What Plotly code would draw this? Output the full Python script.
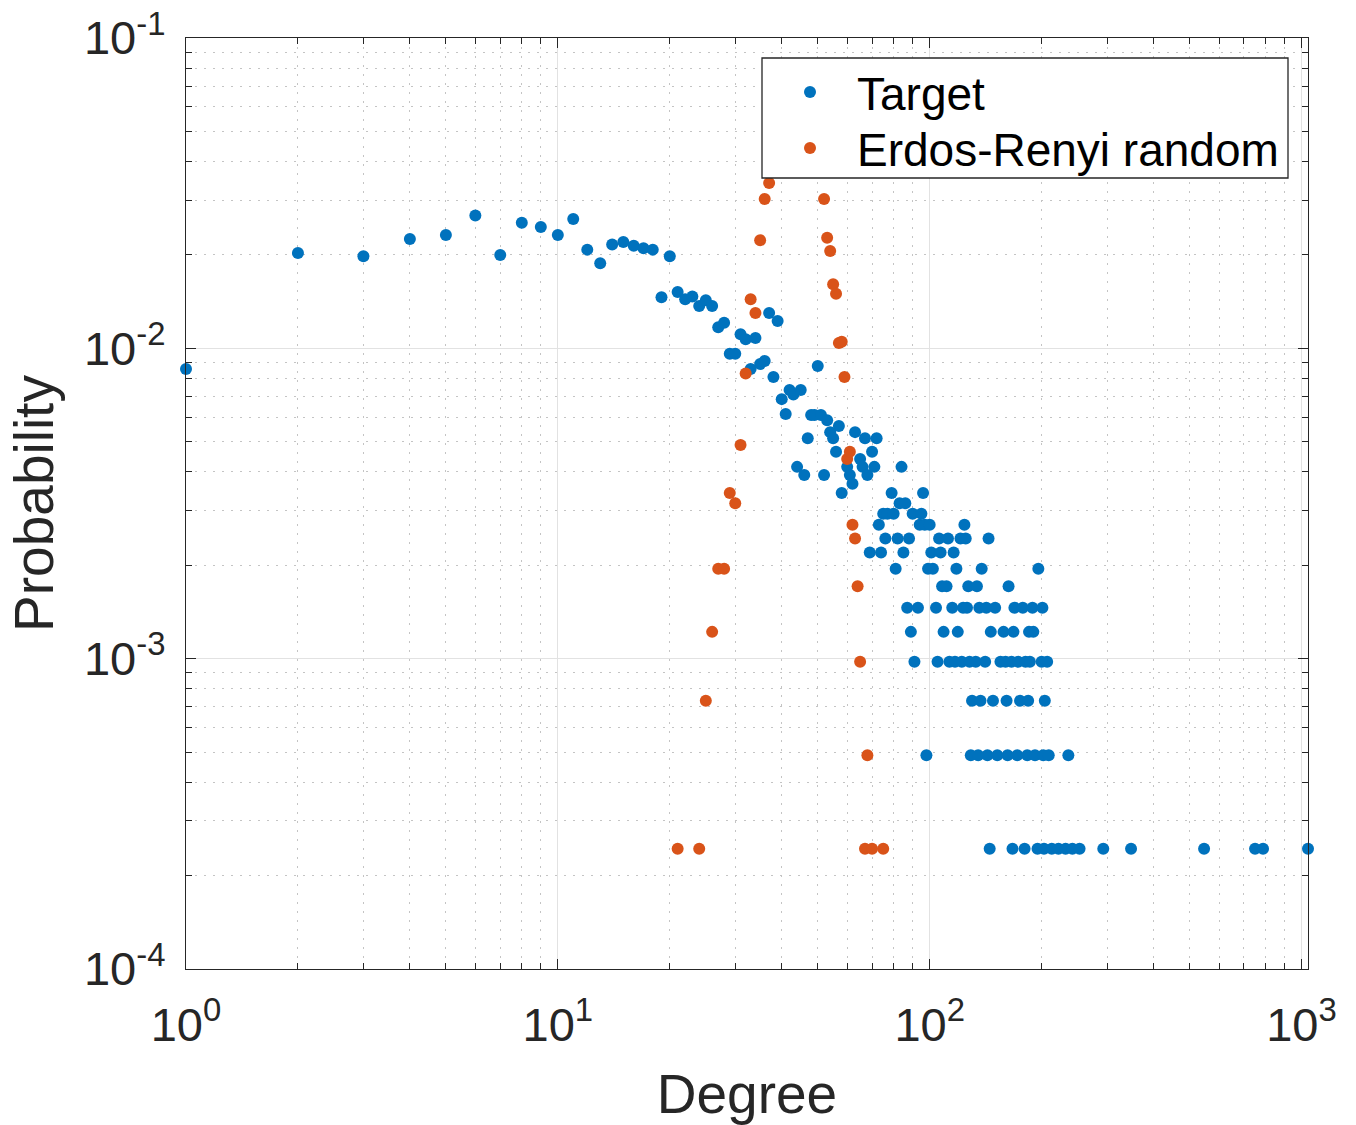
import math
import plotly.graph_objects as go

# ---------------- data ----------------
target_degree = [
    1, 2, 3, 4, 5, 6, 7, 8, 9, 10, 11, 12, 13, 14, 15, 16, 17, 18, 19, 20,
    21, 22, 23, 24, 25, 26, 27, 28, 29, 30, 31, 32, 33, 34, 35, 36, 37, 38, 39, 40,
    41, 42, 43, 44, 45, 46, 47, 48, 49, 50, 51, 52, 53, 54, 55, 56, 57, 58, 60, 61,
    62, 63, 65, 66, 67, 68, 69, 70, 71, 72, 73, 74, 75, 76, 77, 79, 80, 81, 82, 83,
    84, 85, 86, 87, 88, 89, 90, 91, 93, 94, 95, 96, 97, 98, 99, 100, 101, 102, 104, 105,
    106, 107, 108, 109, 111, 112, 113, 115, 116, 117, 118, 119, 121, 122, 123, 124, 125, 126, 127, 128,
    129, 130, 133, 134, 135, 136, 137, 138, 141, 142, 143, 144, 145, 146, 148, 150, 152, 155, 158, 160,
    161, 162, 163, 166, 167, 168, 169, 172, 173, 175, 178, 180, 181, 183, 184, 185, 186, 189, 190, 192,
    195, 196, 200, 201, 202, 203, 204, 207, 209, 213, 222, 232, 236, 242, 253, 293, 348, 547, 750, 788,
    1041,
]
target_prob = [
    0.00858, 0.0203, 0.0198, 0.0225, 0.0232, 0.0268, 0.0200, 0.0254, 0.0246, 0.0232,
    0.0261, 0.0208, 0.0188, 0.0216, 0.0220, 0.0214, 0.0210, 0.0208, 0.0146, 0.0198,
    0.0152, 0.0144, 0.0147, 0.0137, 0.0143, 0.0137, 0.0117, 0.0121, 0.0096, 0.0096,
    0.0111, 0.0107, 0.00858, 0.0108, 0.0089, 0.0091, 0.0130, 0.00808, 0.01225, 0.00686,
    0.00614, 0.00734, 0.0071, 0.00415, 0.00734, 0.00391, 0.00513, 0.0061, 0.0061, 0.00877,
    0.0061, 0.00391, 0.00586, 0.00537, 0.00513, 0.00464, 0.00562, 0.00342, 0.00415, 0.00391,
    0.00366, 0.00537, 0.0044, 0.00415, 0.00513, 0.00391, 0.0022, 0.00464, 0.00415, 0.00513,
    0.0027, 0.0022, 0.00293, 0.00244, 0.00293, 0.00342, 0.00293, 0.00195, 0.00244, 0.00317,
    0.00415, 0.0022, 0.00317, 0.00146, 0.00244, 0.00122, 0.00293, 0.000977, 0.00146, 0.0027,
    0.00293, 0.00342, 0.0027, 0.000488, 0.00195, 0.0027, 0.0022, 0.00195, 0.00146, 0.000977,
    0.00244, 0.0022, 0.00171, 0.00122, 0.00171, 0.00244, 0.000977, 0.00146, 0.0022, 0.000977,
    0.00195, 0.00122, 0.00244, 0.000977, 0.00146, 0.0027, 0.00244, 0.00146, 0.00171, 0.000977,
    0.000488, 0.000732, 0.000977, 0.00171, 0.000488, 0.00146, 0.000732, 0.00195, 0.000977, 0.00146,
    0.000488, 0.00244, 0.000244, 0.00122, 0.000732, 0.00146, 0.000488, 0.000977, 0.00122, 0.000977,
    0.000732, 0.000488, 0.00171, 0.000977, 0.000244, 0.00122, 0.00146, 0.000488, 0.000977, 0.000732,
    0.00146, 0.000244, 0.000977, 0.000488, 0.000732, 0.00122, 0.000977, 0.00146, 0.00122, 0.000488,
    0.000244, 0.00195, 0.000977, 0.00146, 0.000488, 0.000244, 0.000732, 0.000977, 0.000488, 0.000244,
    0.000244, 0.000244, 0.000488, 0.000244, 0.000244, 0.000244, 0.000244, 0.000244, 0.000244, 0.000244,
    0.000244,
]

er_degree = [21, 24, 25, 26, 27, 28, 29, 30, 31, 32, 33, 34, 35, 36, 37,
             52, 53, 54, 55, 56, 57, 58, 59, 60, 61, 62, 63, 64, 65, 67, 68, 70, 75]
er_prob = [0.000244, 0.000244, 0.000732, 0.00122, 0.00195, 0.00195, 0.00342, 0.00317, 0.00488,
           0.0083, 0.0144, 0.0130, 0.0223, 0.0303, 0.0341,
           0.0303, 0.0227, 0.0206, 0.0161, 0.0150, 0.0104, 0.0105, 0.00808, 0.0044, 0.00464,
           0.0027, 0.00244, 0.00171, 0.000977, 0.000244, 0.000488, 0.000244, 0.000244]

series_names = ["Target", "Erdos-Renyi random"]
series_colors = ["#0072BD", "#D95319"]

x_tick_values = [1, 10, 100, 1000]
x_tick_labels = ["10<sup>0</sup>", "10<sup>1</sup>", "10<sup>2</sup>", "10<sup>3</sup>"]
y_tick_values = [1e-4, 1e-3, 1e-2, 1e-1]
y_tick_labels = ["10<sup>-4</sup>", "10<sup>-3</sup>", "10<sup>-2</sup>", "10<sup>-1</sup>"]
x_minor_values = [2, 3, 4, 5, 6, 7, 8, 9, 20, 30, 40, 50, 60, 70, 80, 90,
                  200, 300, 400, 500, 600, 700, 800, 900]
y_minor_values = [2e-4, 3e-4, 4e-4, 5e-4, 6e-4, 7e-4, 8e-4, 9e-4,
                  2e-3, 3e-3, 4e-3, 5e-3, 6e-3, 7e-3, 8e-3, 9e-3,
                  2e-2, 3e-2, 4e-2, 5e-2, 6e-2, 7e-2, 8e-2, 9e-2]
x_range_max = 1041

# ---------------- figure ----------------
AX = "#262626"
FONT = "Arial, 'Liberation Sans', Helvetica, sans-serif"
W, H = 1356, 1125
ML, MR, MT, MB = 186, 48, 38, 156
PW, PH = W - ML - MR, H - MT - MB


def px_x(p):
    return (p - ML) / PW


def px_y(p):
    return (H - MB - p) / PH


fig = go.Figure()
fig.add_trace(go.Scatter(
    x=target_degree, y=target_prob, mode="markers", name=series_names[0],
    marker=dict(color=series_colors[0], size=12, line=dict(width=0)),
    cliponaxis=False, showlegend=False,
))
fig.add_trace(go.Scatter(
    x=er_degree, y=er_prob, mode="markers", name=series_names[1],
    marker=dict(color=series_colors[1], size=12, line=dict(width=0)),
    cliponaxis=False, showlegend=False,
))

axis_common = dict(
    type="log", showline=True, linecolor=AX, linewidth=1.3, mirror="ticks",
    ticks="inside", ticklen=10, tickwidth=1.3, tickcolor=AX,
    showgrid=True, gridcolor="#e2e2e2", gridwidth=1, automargin=False,
    zeroline=False, tickfont=dict(size=47, color=AX, family=FONT),
)
minor_common = dict(tickmode="array", ticks="inside", ticklen=6, tickwidth=1,
                    tickcolor=AX, showgrid=True, gridcolor="#c4c4c4",
                    griddash="2px,7px", gridwidth=1)

fig.update_xaxes(
    **axis_common,
    range=[0, math.log10(x_range_max)],
    tickmode="array", tickvals=x_tick_values, ticktext=x_tick_labels,
    ticklabelstandoff=14,
    minor=dict(tickvals=x_minor_values, **minor_common),
    title=dict(text="Degree", font=dict(size=55, color=AX, family=FONT), standoff=25),
)
fig.update_yaxes(
    **axis_common,
    range=[-4, -1],
    tickmode="array", tickvals=y_tick_values, ticktext=y_tick_labels,
    ticklabelstandoff=10,
    minor=dict(tickvals=y_minor_values, **minor_common),
    title=dict(text="Probability", font=dict(size=55, color=AX, family=FONT), standoff=12),
)

# ---- legend box (drawn on top of the data, like the reference) ----
shapes = [dict(type="rect", xref="paper", yref="paper",
               x0=px_x(762), x1=px_x(1288), y0=px_y(178), y1=px_y(58),
               fillcolor="white", line=dict(color=AX, width=1.3), layer="above")]
annotations = []
legend_rows_px = [92, 148]
for name, color, ry in zip(series_names, series_colors, legend_rows_px):
    shapes.append(dict(type="circle", xref="paper", yref="paper",
                       xsizemode="pixel", ysizemode="pixel",
                       xanchor=px_x(810), yanchor=px_y(ry),
                       x0=-6, x1=6, y0=-6, y1=6,
                       fillcolor=color, line=dict(width=0), layer="above"))
    annotations.append(dict(xref="paper", yref="paper", x=px_x(855), y=px_y(ry + 2),
                            xanchor="left", yanchor="middle", text=name, showarrow=False,
                            font=dict(size=46, color="black", family=FONT)))

fig.update_layout(
    width=W, height=H,
    margin=dict(l=ML, r=MR, t=MT, b=MB),
    plot_bgcolor="white", paper_bgcolor="white",
    font=dict(family=FONT, color=AX, size=45),
    showlegend=False,
    shapes=shapes, annotations=annotations,
)

fig.write_html("out.html")
